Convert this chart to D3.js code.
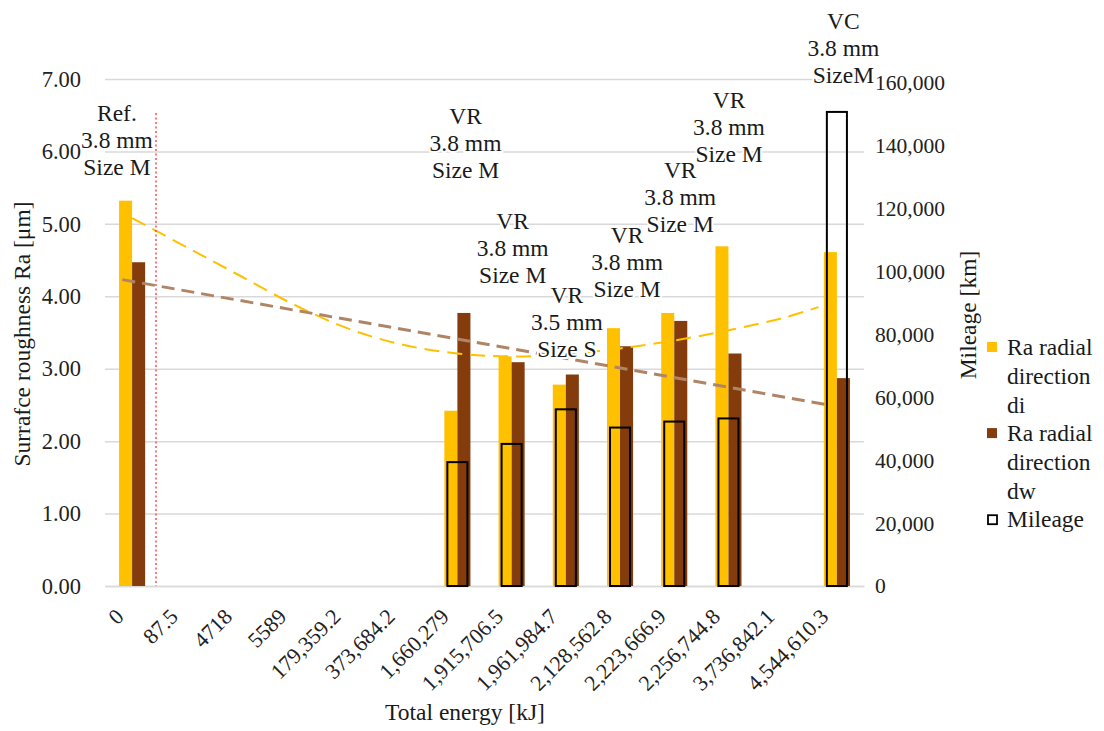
<!DOCTYPE html>
<html>
<head>
<meta charset="utf-8">
<script src="https://cdn.jsdelivr.net/npm/d3@7"></script>
<style>
  body { margin: 0; background: #fff; }
  svg { display: block; }
</style>
</head>
<body>
<svg id="chart" width="1104" height="731"></svg>
<script>
const FONT = '"Liberation Serif"';

const categories = ["0", "87.5", "4718", "5589", "179,359.2", "373,684.2", "1,660,279",
  "1,915,706.5", "1,961,984.7", "2,128,562.8", "2,223,666.9", "2,256,744.8", "3,736,842.1", "4,544,610.3"];

// Ra values [µm], null = no measurement
const raDi = [5.32, null, null, null, null, null, 2.42, 3.17, 2.78, 3.56, 3.77, 4.69, null, 4.61];
const raDw = [4.47, null, null, null, null, null, 3.77, 3.09, 2.92, 3.31, 3.66, 3.21, null, 2.87];
// mileage [km] on secondary axis
const mileage = [null, null, null, null, null, null, 39400, 45200, 56200, 50400, 52300, 53300, null, 150800];

// trendlines (category index -> Ra)
const trendDiIdx = [0, 1, 2, 3, 4, 5, 6, 7, 8, 9, 10, 11, 12, 12.66];
const trendDiVal = [5.08, 4.68, 4.28, 3.88, 3.55, 3.33, 3.21, 3.17, 3.20, 3.28, 3.39, 3.53, 3.70, 3.85];
const trendDwIdx = [-0.18, 12.84];
const trendDwVal = [4.23, 2.50];

// reference marker between "0" and "87.5"
const refLineIdx = 0.44;
const refLineTop = 6.53;

// data labels: text lines, category position, Ra of middle line
const labelLines = [
  ["Ref.", "3.8 mm", "Size M"],
  ["VR", "3.8 mm", "Size M"],
  ["VR", "3.8 mm", "Size M"],
  ["VR", "3.5 mm", "Size S"],
  ["VR", "3.8 mm", "Size M"],
  ["VR", "3.8 mm", "Size M"],
  ["VR", "3.8 mm", "Size M"],
  ["VC", "3.8 mm", "SizeM"]
];
const labelIdx = [-0.28, 6.15, 7.02, 8.02, 9.13, 10.11, 11.01, 13.12];
const labelRa = [6.16, 6.12, 4.67, 3.65, 4.47, 5.38, 6.34, 7.43];

const yTicks = [0, 1, 2, 3, 4, 5, 6, 7];
const y2Ticks = [0, 20000, 40000, 60000, 80000, 100000, 120000, 140000, 160000];

const legendItems = [
  { lines: ["Ra radial", "direction", "di"], color: "#FFC000", outline: false },
  { lines: ["Ra radial", "direction", "dw"], color: "#843C0C", outline: false },
  { lines: ["Mileage"], color: "none", outline: true }
];

const svg = d3.select("#chart");
const left = 105, right = 864, bottom = 586;

const x = d3.scaleBand().domain(categories).range([left, right]);
const idx = d3.scaleLinear().domain([-0.5, categories.length - 0.5]).range([left, right]);
const sub = d3.scaleBand().domain(["di", "dw"]).range([0, x.bandwidth()]).paddingOuter(1.08);
const yL = d3.scaleLinear().domain([0, 7]).range([bottom, 79]);
const yR = d3.scaleLinear().domain([0, 160000]).range([bottom, 83]);

// gridlines
svg.append("g")
  .attr("transform", `translate(${left},0)`)
  .call(d3.axisLeft(yL).tickValues(yTicks).tickSize(-(right - left)).tickFormat(""))
  .call(g => g.select(".domain").remove())
  .call(g => g.selectAll("line").attr("stroke", "#d9d9d9").attr("stroke-width", 1.5));

// left axis labels
svg.append("g")
  .attr("transform", `translate(${left},0)`)
  .call(d3.axisLeft(yL).tickValues(yTicks).tickSize(0).tickPadding(24).tickFormat(d3.format(".2f")))
  .call(g => g.select(".domain").remove())
  .call(g => g.selectAll("text").style("font-family", FONT).attr("font-size", 22.5).attr("fill", "#222"));

// right axis labels
svg.append("g")
  .attr("transform", `translate(${right},0)`)
  .call(d3.axisRight(yR).tickValues(y2Ticks).tickSize(0).tickPadding(11).tickFormat(d3.format(",")))
  .call(g => g.select(".domain").remove())
  .call(g => g.selectAll("text").style("font-family", FONT).attr("font-size", 21.5).attr("fill", "#222"));

// x axis
svg.append("g")
  .attr("transform", `translate(0,${bottom})`)
  .call(d3.axisBottom(x).tickSize(0).tickSizeOuter(0))
  .call(g => g.select(".domain").attr("stroke", "#d9d9d9").attr("stroke-width", 1.5))
  .call(g => g.selectAll("text")
    .style("font-family", FONT)
    .attr("font-size", 22).attr("fill", "#222")
    .attr("y", 0).attr("dy", 0)
    .attr("text-anchor", "end")
    .attr("transform", "translate(-7,32) rotate(-45)"));

// Ra bars
const bars = [
  { key: "di", values: raDi, color: "#FFC000" },
  { key: "dw", values: raDw, color: "#843C0C" }
];
bars.forEach(s => {
  svg.append("g").selectAll("rect")
    .data(categories.map((c, i) => ({ c, v: s.values[i] })).filter(d => d.v != null))
    .join("rect")
    .attr("x", d => x(d.c) + sub(s.key))
    .attr("width", sub.bandwidth())
    .attr("y", d => yL(d.v))
    .attr("height", d => yL(0) - yL(d.v))
    .attr("fill", s.color);
});

// mileage outline bars
const mw = x.bandwidth() * 0.37;
svg.append("g").selectAll("rect")
  .data(categories.map((c, i) => ({ c, v: mileage[i] })).filter(d => d.v != null))
  .join("rect")
  .attr("x", d => x(d.c) + x.bandwidth() / 2 - mw / 2)
  .attr("width", mw)
  .attr("y", d => yR(d.v))
  .attr("height", d => yR(0) - yR(d.v))
  .attr("fill", "none")
  .attr("stroke", "#000")
  .attr("stroke-width", 2);

// trendlines
const trendDi = trendDiIdx.map((t, i) => [t, trendDiVal[i]]);
svg.append("path")
  .attr("d", d3.line().x(d => idx(d[0])).y(d => yL(d[1])).curve(d3.curveCatmullRom.alpha(0.5))(trendDi))
  .attr("fill", "none")
  .attr("stroke", "#FFC000")
  .attr("stroke-width", 2)
  .attr("stroke-dasharray", "15,8");

const trendDw = trendDwIdx.map((t, i) => [t, trendDwVal[i]]);
svg.append("path")
  .attr("d", d3.line().x(d => idx(d[0])).y(d => yL(d[1]))(trendDw))
  .attr("fill", "none")
  .attr("stroke", "#b08566")
  .attr("stroke-width", 3)
  .attr("stroke-dasharray", "13,7");

// red dotted reference line
svg.append("line")
  .attr("x1", idx(refLineIdx)).attr("x2", idx(refLineIdx))
  .attr("y1", yL(refLineTop)).attr("y2", yL(0))
  .attr("stroke", "#ff4b4b")
  .attr("stroke-width", 1.5)
  .attr("stroke-dasharray", "2,2.5");

// data labels
labelLines.forEach((lines, i) => {
  const t = svg.append("text")
    .attr("x", idx(labelIdx[i]))
    .attr("y", yL(labelRa[i]))
    .attr("text-anchor", "middle")
    .style("font-family", FONT)
    .attr("font-size", 23.5)
    .attr("fill", "#1a1a1a")
    .attr("stroke", "#fff")
    .attr("stroke-width", 4)
    .attr("paint-order", "stroke");
  lines.forEach((ln, j) => {
    t.append("tspan")
      .attr("x", idx(labelIdx[i]))
      .attr("y", yL(labelRa[i]) + (j - 1) * 27)
      .attr("dy", "0.35em")
      .text(ln);
  });
});

// axis titles
const title = (sel) => sel.style("font-family", FONT).attr("font-size", 23.5)
  .attr("fill", "#1a1a1a").attr("text-anchor", "middle").attr("dy", "0.35em");

svg.append("text").call(title)
  .attr("transform", "translate(22,334) rotate(-90)")
  .text("Surrafce roughness Ra [μm]");

svg.append("text").call(title)
  .attr("transform", "translate(968,315) rotate(-90)")
  .text("Mileage [km]");

svg.append("text").call(title)
  .attr("x", 465).attr("y", 712)
  .text("Total energy [kJ]");

// legend
const lg = svg.append("g").attr("transform", "translate(987,347)");
let ly = 0;
const lh = 28.7;
legendItems.forEach(item => {
  lg.append("rect")
    .attr("x", item.outline ? 1 : 0).attr("y", ly - 5 + (item.outline ? 1 : 0))
    .attr("width", item.outline ? 9 : 10).attr("height", item.outline ? 9 : 10)
    .attr("fill", item.outline ? "none" : item.color)
    .attr("stroke", item.outline ? "#000" : "none")
    .attr("stroke-width", 1.8);
  item.lines.forEach((ln, j) => {
    lg.append("text")
      .attr("x", 20).attr("y", ly + j * lh)
      .attr("dy", "0.35em")
      .style("font-family", FONT)
      .attr("font-size", 23.5)
      .attr("fill", "#1a1a1a")
      .text(ln);
  });
  ly += item.lines.length * lh;
});
</script>
</body>
</html>
